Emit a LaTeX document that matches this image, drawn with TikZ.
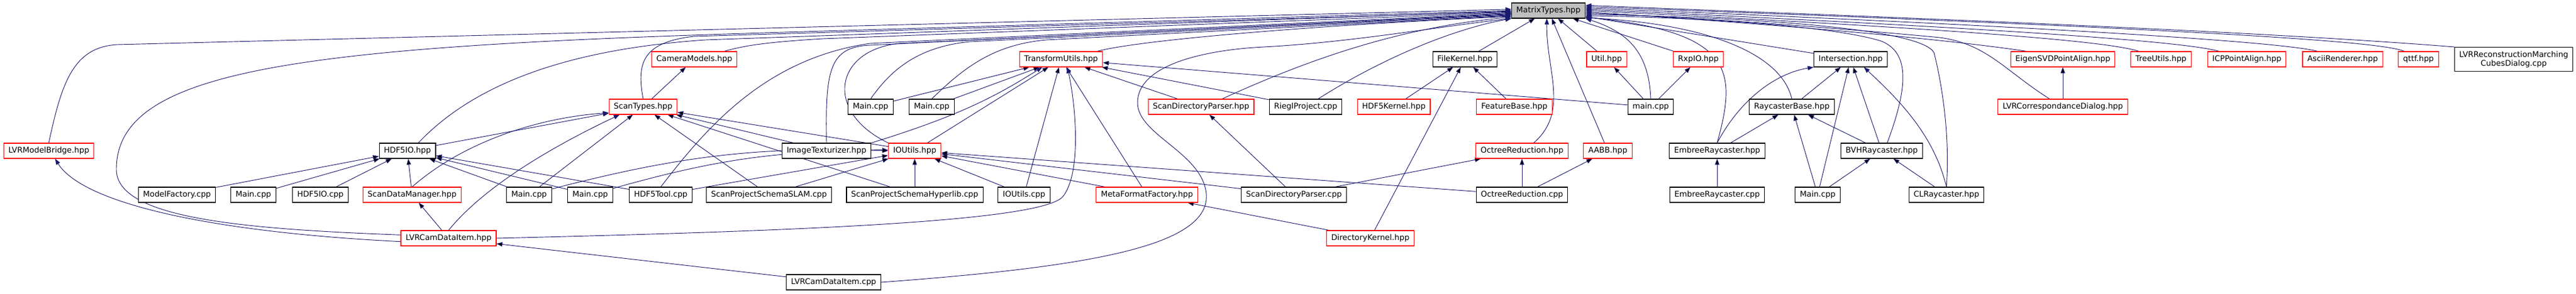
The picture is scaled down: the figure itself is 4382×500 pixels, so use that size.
\documentclass[tikz,border=0pt]{standalone}
\usepackage{fontspec}
\setmainfont{DejaVu Sans}
\usetikzlibrary{arrows.meta,backgrounds}
\definecolor{depblue}{HTML}{191970}
\definecolor{grey75}{HTML}{BFBFBF}
\tikzset{srcbox/.style={draw=black,fill=white,line width=0.8pt,inner xsep=6pt,inner ysep=0pt,minimum height=19.5pt,font=\fontsize{10}{11}\selectfont},
  trunc/.style={draw=red},
  dep/.style={draw=depblue,line width=0.7pt,-{Triangle[length=7.5pt,width=5.5pt]}}}
\newcommand{\srcfile}[4][]{\node[srcbox,#1] at (#2) (#3) {#4}}

\begin{document}
\begin{tikzpicture}[x=0.75pt,y=-0.75pt]
  \useasboundingbox (0,0) rectangle (4382,500);

  \srcfile[fill=grey75]{2634,18}{mtypes}{MatrixTypes.hpp};

  \srcfile[trunc]{1181,101}{camera}{CameraModels.hpp};
  \srcfile[trunc]{1805,101}{xform}{TransformUtils.hpp};
  \srcfile{2492,101}{fkernel}{FileKernel.hpp};
  \srcfile[trunc]{2733,101}{util}{Util.hpp};
  \srcfile[trunc]{2889,101}{rxpio}{RxpIO.hpp};
  \srcfile{3148,101}{isect}{Intersection.hpp};
  \srcfile[trunc]{3509,101}{svdalign}{EigenSVDPointAlign.hpp};
  \srcfile[trunc]{3676,101}{treeutil}{TreeUtils.hpp};
  \srcfile[trunc]{3822,101}{icpalign}{ICPPointAlign.hpp};
  \srcfile[trunc]{3985,101}{ascii}{AsciiRenderer.hpp};
  \srcfile[trunc]{4114,101}{qttf}{qttf.hpp};
  \srcfile[align=center,minimum height=30.75pt]{4276,101}{mcdialog}{LVRReconstructionMarching\\CubesDialog.cpp};

  \srcfile[trunc]{1094,182}{scantypes}{ScanTypes.hpp};
  \srcfile{1481,182}{mainA}{Main.cpp};
  \srcfile{1585,182}{mainB}{Main.cpp};
  \srcfile[trunc]{2043,182}{sdparser}{ScanDirectoryParser.hpp};
  \srcfile{2221,182}{riegl}{RieglProject.cpp};
  \srcfile[trunc]{2371,182}{h5kernel}{HDF5Kernel.hpp};
  \srcfile[trunc]{2576,182}{feature}{FeatureBase.hpp};
  \srcfile{2808,182}{maincpp}{main.cpp};
  \srcfile{3048,182}{rcbase}{RaycasterBase.hpp};
  \srcfile[trunc]{3509,182}{corrdlg}{LVRCorrespondanceDialog.hpp};

  \srcfile[trunc]{83,257}{bridge}{LVRModelBridge.hpp};
  \srcfile{693,257}{h5io}{HDF5IO.hpp};
  \srcfile{1406,257}{texturizer}{ImageTexturizer.hpp};
  \srcfile[trunc]{1556,257}{ioutils}{IOUtils.hpp};
  \srcfile[trunc]{2589,257}{octree}{OctreeReduction.hpp};
  \srcfile[trunc]{2735,257}{aabb}{AABB.hpp};
  \srcfile{2921,257}{embree}{EmbreeRaycaster.hpp};
  \srcfile{3201,257}{bvh}{BVHRaycaster.hpp};

  \srcfile{301,332}{mfactory}{ModelFactory.cpp};
  \srcfile{431,332}{mainC}{Main.cpp};
  \srcfile{545,332}{h5iocpp}{HDF5IO.cpp};
  \srcfile[trunc]{701,332}{scanmgr}{ScanDataManager.hpp};
  \srcfile{900,332}{mainD}{Main.cpp};
  \srcfile{1004,332}{mainE}{Main.cpp};
  \srcfile{1124,332}{h5tool}{HDF5Tool.cpp};
  \srcfile{1308,332}{slam}{ScanProjectSchemaSLAM.cpp};
  \srcfile{1556,332}{hyperlib}{ScanProjectSchemaHyperlib.cpp};
  \srcfile{1742,332}{ioutilscpp}{IOUtils.cpp};
  \srcfile[trunc]{1951,332}{metafmt}{MetaFormatFactory.hpp};
  \srcfile{2201,332}{sdparsercpp}{ScanDirectoryParser.cpp};
  \srcfile{2589,332}{octreecpp}{OctreeReduction.cpp};
  \srcfile{2921,332}{embreecpp}{EmbreeRaycaster.cpp};
  \srcfile{3092,332}{mainF}{Main.cpp};
  \srcfile{3311,332}{clray}{CLRaycaster.hpp};

  \srcfile[trunc]{763,406}{camitem}{LVRCamDataItem.hpp};
  \srcfile[trunc]{2331,406}{dkernel}{DirectoryKernel.hpp};
  \srcfile{1418,481}{camitemcpp}{LVRCamDataItem.cpp};

  \begin{scope}[on background layer]
  \path[dep] (scantypes) edge (camera)
        (h5io) edge (scantypes)
        (mfactory) edge (h5io)
        (mainC) edge (h5io)
        (h5iocpp) edge (h5io)
        (scanmgr) edge (h5io)
        (mainD) edge (h5io)
        (mainE) edge (h5io)
        (h5tool) edge (h5io)
        (camitem) edge (scanmgr)
        (mainD) edge (scantypes)
        (slam) edge (scantypes)
        (hyperlib) edge (scantypes)
        (texturizer) edge (scantypes)
        (ioutils) edge (scantypes)
        (mainD) edge[bend left=8] (ioutils)
        (mainE) edge[bend left=8] (ioutils)
        (h5tool) edge (ioutils)
        (slam) edge (ioutils)
        (hyperlib) edge (ioutils)
        (ioutilscpp) edge (ioutils)
        (metafmt) edge (ioutils)
        (sdparsercpp) edge (ioutils)
        (octreecpp) edge (ioutils)
        (mainA) edge (xform)
        (mainB) edge (xform)
        (ioutils) edge (xform)
        (ioutilscpp) edge (xform)
        (metafmt) edge (xform)
        (sdparser) edge (xform)
        (riegl) edge (xform)
        (maincpp) edge (xform)
        (sdparsercpp) edge (sdparser)
        (sdparsercpp) edge (octree)
        (octreecpp) edge (octree)
        (octreecpp) edge (aabb)
        (dkernel) edge (metafmt)
        (dkernel) edge (fkernel)
        (h5kernel) edge (fkernel)
        (feature) edge (fkernel)
        (maincpp) edge (util)
        (maincpp) edge (rxpio)
        (rcbase) edge (isect)
        (embree) edge (rcbase)
        (embreecpp) edge (embree)
        (bvh) edge (rcbase)
        (bvh) edge (isect)
        (mainF) edge (rcbase)
        (mainF) edge (isect)
        (mainF) edge (bvh)
        (clray) edge (bvh)
        (corrdlg) edge (svdalign)
        (camitemcpp) edge (camitem)
        (fkernel) edge (mtypes)
        (aabb) edge (mtypes)
        (util) edge (mtypes)
        (rxpio) edge (mtypes)
        (isect) edge (mtypes);

  \draw[dep] (camitem.184) .. controls (350,395) and (140,345) .. ([xshift=8pt]bridge.south);
  \draw[dep] (scanmgr.north) .. controls (790,240) and (920,200) .. (scantypes.190);
  \draw[dep] (camitem.north) .. controls (830,310) and (960,240) .. ([xshift=-30pt]scantypes.south);
  \draw[dep] (texturizer.north east) .. controls (1640,195) and (1700,160) .. ([xshift=-24pt]xform.south);
  \draw[dep] (camitem.east) .. controls (1300,395) and (1770,380) .. (1808,335) .. controls (1840,295) and (1830,180) .. ([xshift=8pt]xform.south);
  \draw[dep] (embree.north) .. controls (2960,170) and (3020,125) .. (isect.south west);
  \draw[dep] (clray.north) .. controls (3290,230) and (3230,170) .. ([xshift=17pt]isect.south);

  \draw[dep] (bridge.north) .. controls (105,140) and (125,80) .. (200,76) -- (mtypes.178);
  \draw[dep] (camitem.176) .. controls (400,390) and (200,370) .. (198,290) .. controls (196,120) and (500,80) .. (1300,56) -- (mtypes.180);
  \draw[dep] ([xshift=14pt]h5io.north) .. controls (800,150) and (950,85) .. (1200,68) -- (mtypes.181);
  \draw[dep] (scantypes.north) .. controls (1082,105) and (1095,72) .. (1180,62) -- (mtypes.182);
  \draw[dep] ([xshift=38pt]camera.north) .. controls (1265,78) and (1300,72) .. (1400,66) -- (mtypes.183);
  \draw[dep] (h5tool.north) .. controls (1200,220) and (1300,100) .. (1480,74) -- (mtypes.184);
  \draw[dep] (texturizer.north) .. controls (1404,120) and (1410,80) .. (1480,77) -- (mtypes.185);
  \draw[dep] (ioutils.north west) .. controls (1400,190) and (1420,85) .. (1530,74) -- (mtypes.186);
  \draw[dep] (mainA.north) .. controls (1515,120) and (1560,80) .. (1650,71) -- (mtypes.187);
  \draw[dep] (mainB.north) .. controls (1640,115) and (1690,76) .. (1780,68) -- (mtypes.188);
  \draw[dep] ([xshift=46pt]xform.north) .. controls (1930,70) and (2200,45) .. (mtypes.189);
  \draw[dep] ([xshift=27pt]sdparser.north) .. controls (2250,90) and (2400,45) .. (mtypes.190);
  \draw[dep] ([xshift=16pt]riegl.north) .. controls (2350,100) and (2470,50) .. (mtypes.south west);
  \draw[dep] (camitemcpp.east) .. controls (1850,455) and (2060,420) .. (2052,330) .. controls (2045,260) and (1935,230) .. (1935,175) .. controls (1935,110) and (2050,85) .. (2150,80) .. controls (2300,72) and (2450,45) .. (mtypes.192);

  \draw[dep] ([xshift=15pt]octree.north) .. controls (2670,190) and (2630,120) .. ([xshift=-2pt]mtypes.south);
  \draw[dep] (maincpp.north) .. controls (2805,90) and (2770,55) .. (mtypes.south east);
  \draw[dep] (rcbase.north) .. controls (3030,90) and (2900,40) .. (mtypes.349);
  \draw[dep] (embree.north) .. controls (2955,120) and (2950,55) .. (mtypes.350);
  \draw[dep] ([xshift=7pt]bvh.north) .. controls (3245,150) and (3250,90) .. (3200,70) .. controls (3120,45) and (2900,30) .. (mtypes.352);
  \draw[dep] (clray.north) .. controls (3318,220) and (3300,130) .. (3290,90) .. controls (3270,50) and (3000,30) .. (mtypes.354);
  \draw[dep] ([xshift=-17pt]corrdlg.north) .. controls (3410,120) and (3380,75) .. (3300,64) .. controls (3100,45) and (2850,28) .. (mtypes.356);
  \draw[dep] ([xshift=-46pt]svdalign.north) .. controls (3300,65) and (3000,40) .. (mtypes.358);
  \draw[dep] ([xshift=-28pt]treeutil.north) .. controls (3600,75) and (3450,55) .. (mtypes.0);
  \draw[dep] ([xshift=-35pt]icpalign.north) .. controls (3730,75) and (3550,55) .. (mtypes.2);
  \draw[dep] ([xshift=-32pt]ascii.north) .. controls (3900,75) and (3600,50) .. (mtypes.4);
  \draw[dep] ([xshift=-18pt]qttf.north) .. controls (4060,75) and (3900,55) .. (mtypes.6);
  \draw[dep] (mcdialog.north west) .. controls (3800,50) and (3100,25) .. (mtypes.8);
  \end{scope}
\end{tikzpicture}
\end{document}
